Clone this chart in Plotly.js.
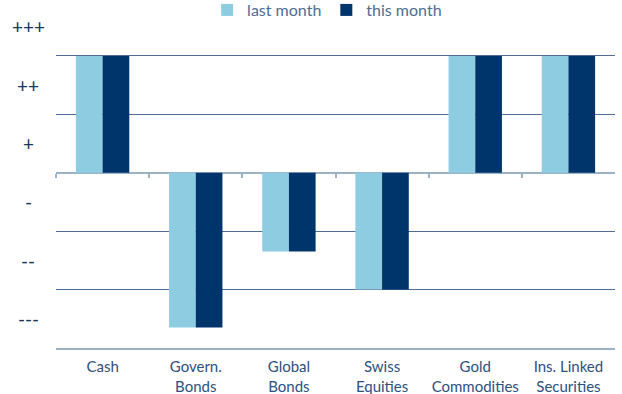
<!DOCTYPE html>
<html>
<head>
<meta charset="utf-8">
<script src="https://cdn.plot.ly/plotly-3.0.1.min.js"></script>
<style>
  html, body { margin: 0; padding: 0; background: #ffffff; }
  #chart { width: 622px; height: 394px; }
</style>
</head>
<body>
<div id="chart"></div>
<script>
const categories = ["Cash", "Govern.<br>Bonds", "Global<br>Bonds", "Swiss<br>Equities", "Gold<br>Commodities", "Ins. Linked<br>Securities"];
const lastMonth = [2, -2.65, -1.35, -2, 2, 2];
const thisMonth = [2, -2.65, -1.35, -2, 2, 2];
const seriesNames = ["last month", "this month"];
const yLabelText = ["+++", "++", "+", "-", "--", "---"];
const yLabelPos = [2.5, 1.5, 0.5, -0.5, -1.5, -2.5];
const gridVals = [-2, -1, 1, 2];
const boundaryTicks = [-0.5, 0.5, 1.5, 2.5, 3.5, 4.5];

const LIGHT = "#8ecde1";
const DARK = "#00356b";
const AXIS = "#9db1c7";
const GRID = "#4f6e96";
const FONT = "Lato, 'Open Sans', sans-serif";

const yRange = [-3, 2.94];
const zeroFrac = (0 - yRange[0]) / (yRange[1] - yRange[0]);

const data = [
  { type: "bar", name: seriesNames[0], x: categories, y: lastMonth,
    marker: { color: LIGHT, line: { width: 0 } }, hoverinfo: "skip" },
  { type: "bar", name: seriesNames[1], x: categories, y: thisMonth,
    marker: { color: DARK, line: { width: 0 } }, hoverinfo: "skip" },
  { type: "scatter", mode: "markers", x: [0], y: [null], xaxis: "x2",
    showlegend: false, hoverinfo: "skip", marker: { opacity: 0 } }
];

const annotations = yLabelText.map((t, i) => ({
  text: t, xref: "paper", yref: "y", x: -0.05, y: yLabelPos[i],
  xanchor: "center", yanchor: "middle", showarrow: false,
  font: { family: FONT, size: 19, color: "#17375e" }
}));

const layout = {
  width: 622, height: 394,
  margin: { l: 56, r: 7, t: 1, b: 46, pad: 0, autoexpand: false },
  paper_bgcolor: "#ffffff", plot_bgcolor: "#ffffff",
  font: { family: FONT, size: 15, color: "#2d5080" },
  barmode: "group", bargap: 0.427, bargroupgap: 0,
  showlegend: true,
  legend: {
    orientation: "h", x: 0.485, xanchor: "center", y: 1.023, yanchor: "top",
    font: { family: FONT, size: 16, color: "#4e6d93" },
    itemwidth: 30, tracegroupgap: 0, bgcolor: "rgba(0,0,0,0)"
  },
  xaxis: {
    type: "category", range: [-0.5, 5.5], fixedrange: true,
    showline: true, linecolor: AXIS, linewidth: 2, mirror: false,
    ticks: "", showgrid: false, zeroline: false,
    tickfont: { family: FONT, size: 15, color: "#2d5080" },
    ticklabelstandoff: 4
  },
  xaxis2: {
    type: "linear", overlaying: "x", anchor: "free", position: zeroFrac,
    range: [-0.5, 5.5], tickmode: "array", tickvals: boundaryTicks,
    ticks: "outside", ticklen: 4, tickwidth: 2, tickcolor: AXIS,
    showticklabels: false, showgrid: false, zeroline: false, showline: false
  },
  yaxis: {
    range: yRange, fixedrange: true,
    showticklabels: false, ticks: "", showgrid: false,
    tickmode: "array", tickvals: [],
    minor: { tickmode: "array", tickvals: gridVals, showgrid: true, gridcolor: GRID, gridwidth: 1, ticks: "" },
    zeroline: true, zerolinecolor: AXIS, zerolinewidth: 2,
    showline: false
  },
  annotations: annotations
};

Plotly.newPlot("chart", data, layout, { displayModeBar: false, staticPlot: true });
</script>
</body>
</html>
